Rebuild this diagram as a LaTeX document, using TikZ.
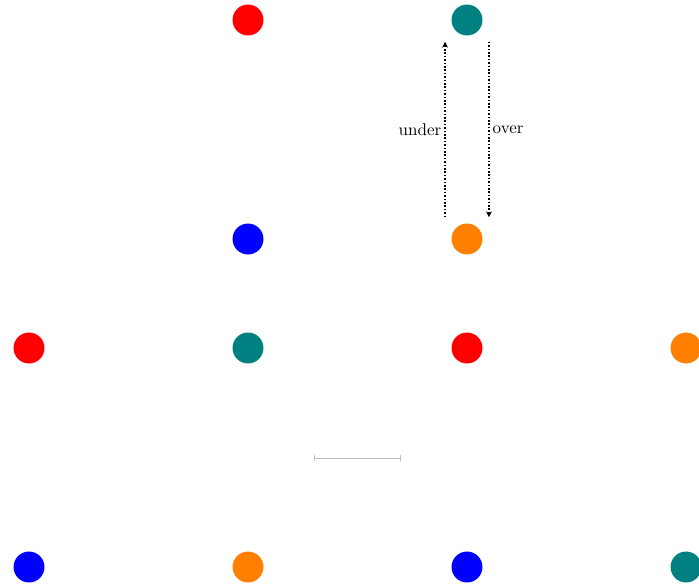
\documentclass[tikz,border=0pt]{standalone}
\usetikzlibrary{arrows.meta,calc}
\definecolor{myorange}{RGB}{255,128,0}
\definecolor{myteal}{RGB}{0,128,128}
\tikzset{
  dot/.style={circle,inner sep=0pt,minimum size=18.2pt,draw=none,fill=#1},
  arr/.style={thick,dash pattern=on 0.9pt off 1.1pt,-{Stealth[length=3.5pt,width=3.5pt]}},
}
\begin{document}
\begin{tikzpicture}[x=0.588pt,y=-0.588pt]
\useasboundingbox (0,0) rectangle (699,583);
\node[dot=red] (a1) at (248,20) {};
\node[dot=myteal] (a2) at (467,20) {};
\node[dot=blue] (b1) at (248,239) {};
\node[dot=myorange] (b2) at (467,239) {};
\node[dot=red] (c0) at (29,348) {};
\node[dot=myteal] (c1) at (248,348) {};
\node[dot=red] (c2) at (467,348) {};
\node[dot=myorange] (c3) at (686,348) {};
\node[dot=blue] (d0) at (29,567) {};
\node[dot=myorange] (d1) at (248,567) {};
\node[dot=blue] (d2) at (467,567) {};
\node[dot=myteal] (d3) at (686,567) {};
\draw[arr,shorten <=3.5pt,shorten >=3.5pt] ([xshift=-12.9pt]b2.north) -- node[left=-1.5pt]{under} ([xshift=-12.9pt]a2.south);
\draw[arr,shorten <=3.5pt,shorten >=3.5pt] ([xshift=12.9pt]a2.south) -- node[right=-1.5pt]{over} ([xshift=12.9pt]b2.north);
\coordinate (g1) at (314,458);
\coordinate (g2) at (401,458);
\draw[gray!50,line width=0.5pt,{Bar[width=3pt]}-{Bar[width=3pt]}] (g1) -- (g2);
\end{tikzpicture}
\end{document}
